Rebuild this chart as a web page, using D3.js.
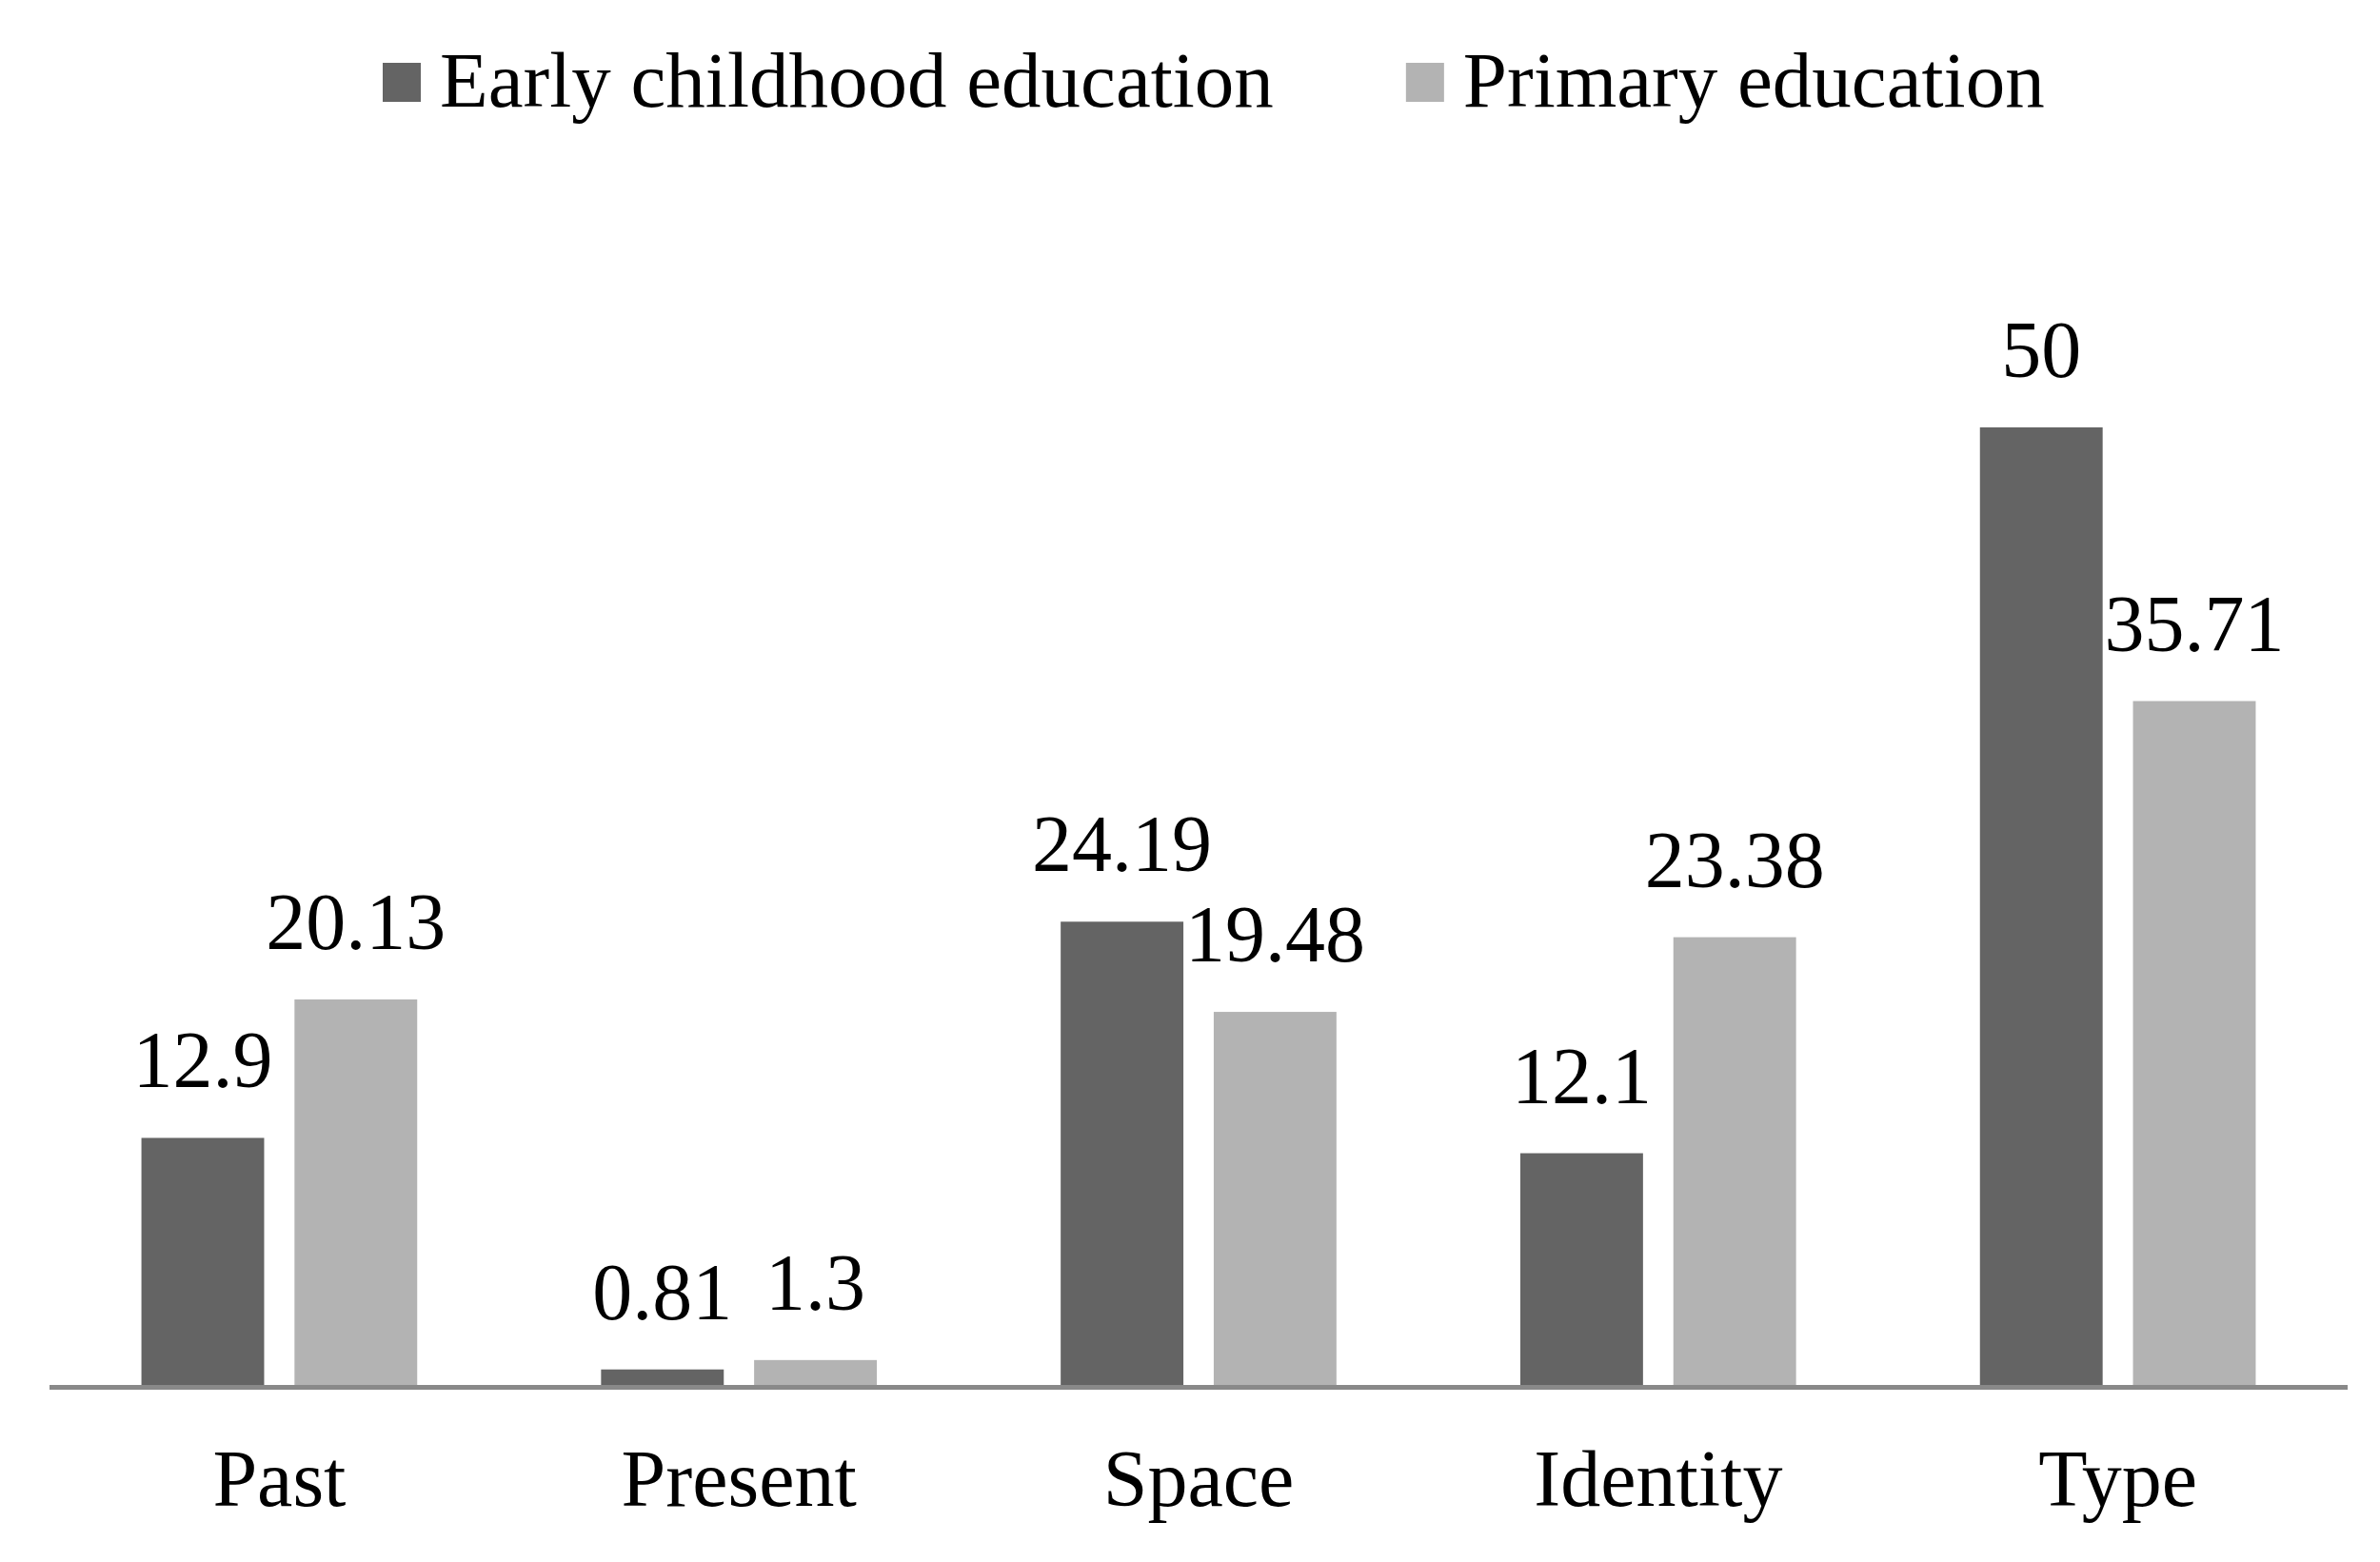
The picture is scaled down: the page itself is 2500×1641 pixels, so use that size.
<!DOCTYPE html>
<html>
<head>
<meta charset="utf-8">
<script src="https://cdnjs.cloudflare.com/ajax/libs/d3/7.8.5/d3.min.js"></script>
<style>
  html, body { margin: 0; padding: 0; background: #ffffff; }
  svg { display: block; }
  text { font-family: "Liberation Serif", "Times New Roman", serif; fill: #000; }
</style>
</head>
<body>
<svg id="chart" width="2500" height="1641"></svg>
<script>
const categories = ["Past", "Present", "Space", "Identity", "Type"];
const seriesNames = ["Early childhood education", "Primary education"];
const earlyValues = [12.9, 0.81, 24.19, 12.1, 50];
const primaryValues = [20.13, 1.3, 19.48, 23.38, 35.71];
const earlyLabels = ["12.9", "0.81", "24.19", "12.1", "50"];
const primaryLabels = ["20.13", "1.3", "19.48", "23.38", "35.71"];
const colors = ["#646464", "#b3b3b3"];

const W = 2500, H = 1641;
const svg = d3.select("#chart");
svg.append("rect").attr("width", W).attr("height", H).attr("fill", "#fff");

const axisLeft = 52, axisRight = 2466, baseY = 1455;
const x0 = d3.scaleBand().domain(categories).range([axisLeft, axisRight]).paddingInner(0).paddingOuter(0);
const bw = x0.bandwidth();
const barW = bw * 0.267;
const gap = bw * 0.066;

// Y: 50 maps to 449
const y = d3.scaleLinear().domain([0, 60]).range([baseY, baseY - 60 * (baseY - 449) / 50]);

const data = categories.map((c, i) => ({
  cat: c,
  vals: [
    { s: seriesNames[0], v: earlyValues[i], lab: earlyLabels[i], k: 0 },
    { s: seriesNames[1], v: primaryValues[i], lab: primaryLabels[i], k: 1 }
  ]
}));

function barX(d) {
  return d.k === 0 ? (bw / 2 - gap / 2 - barW) : (bw / 2 + gap / 2);
}

const groups = svg.selectAll("g.cat").data(data).join("g")
  .attr("class", "cat")
  .attr("transform", d => `translate(${x0(d.cat)},0)`);

groups.selectAll("rect").data(d => d.vals).join("rect")
  .attr("x", d => barX(d))
  .attr("y", d => y(d.v))
  .attr("width", barW)
  .attr("height", d => baseY - y(d.v))
  .attr("fill", d => colors[d.k]);

groups.selectAll("text.val").data(d => d.vals).join("text")
  .attr("class", "val")
  .attr("x", d => barX(d) + barW / 2)
  .attr("y", d => y(d.v) - 53)
  .attr("text-anchor", "middle")
  .attr("font-size", 84)
  .text(d => d.lab);

// axis line
svg.append("line")
  .attr("x1", axisLeft).attr("x2", axisRight)
  .attr("y1", baseY + 2.5).attr("y2", baseY + 2.5)
  .attr("stroke", "#898989").attr("stroke-width", 5);

// category labels
const xAxis = d3.axisBottom(x0).tickSize(0).tickPadding(0);
const gx = svg.append("g").attr("transform", `translate(0,${baseY})`).call(xAxis);
gx.select(".domain").remove();
gx.selectAll("text")
  .attr("font-size", 84)
  .attr("font-family", "'Liberation Serif', 'Times New Roman', serif")
  .attr("fill", "#000")
  .attr("dy", null)
  .attr("y", 1582 - baseY);

// legend
const legend = svg.append("g");
let lx = 402;
seriesNames.forEach((name, i) => {
  legend.append("rect").attr("x", lx).attr("y", 66).attr("width", 40).attr("height", 41).attr("fill", colors[i]);
  const t = legend.append("text").attr("x", lx + 60).attr("y", 112).attr("font-size", 83).text(name);
  const w = t.node().getComputedTextLength();
  lx = lx + 60 + w + 139;
});
</script>
</body>
</html>
